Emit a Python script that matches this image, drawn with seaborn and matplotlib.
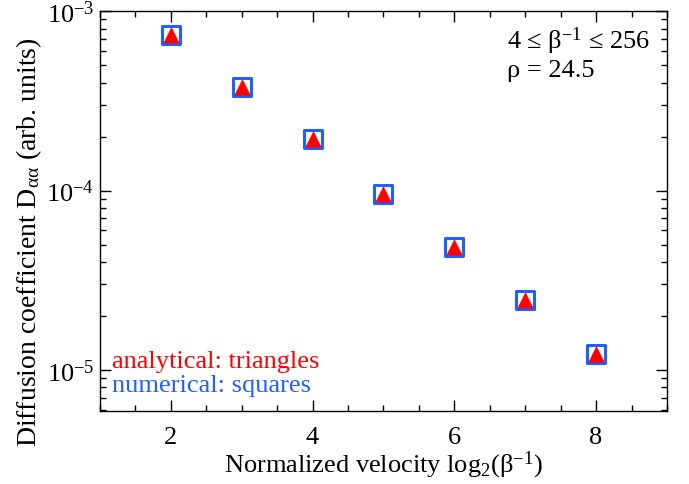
import matplotlib
matplotlib.use("Agg")
import matplotlib.pyplot as plt
import seaborn as sns
import pandas as pd
import numpy as np
from matplotlib.ticker import MultipleLocator, LogLocator, LogFormatterMathtext, NullFormatter

sns.set_style("ticks")
plt.rcParams['font.family'] = ['Liberation Serif', 'DejaVu Serif']
plt.rcParams['mathtext.fontset'] = 'custom'
plt.rcParams['mathtext.rm'] = 'Liberation Serif'
plt.rcParams['mathtext.it'] = 'Liberation Serif'
plt.rcParams['mathtext.bf'] = 'Liberation Serif:bold'
plt.rcParams['mathtext.default'] = 'regular'
plt.rcParams['text.color'] = 'black'
plt.rcParams['axes.labelcolor'] = 'black'
plt.rcParams['xtick.color'] = 'black'
plt.rcParams['ytick.color'] = 'black'

log2_beta_inv = [2, 3, 4, 5, 6, 7, 8]
numerical = [7.4e-4, 3.8e-4, 1.93e-4, 9.6e-5, 4.85e-5, 2.45e-5, 1.22e-5]
analytical = [7.4e-4, 3.8e-4, 1.93e-4, 9.6e-5, 4.85e-5, 2.45e-5, 1.22e-5]

df = pd.DataFrame({"x": log2_beta_inv, "num": numerical, "ana": analytical})

FS = 19
fig = plt.figure(figsize=(6.89, 4.85), dpi=100)
ax = fig.add_axes([0.145, 0.1505, 0.823, 0.8245])

sns.scatterplot(data=df, x="x", y="num", ax=ax, marker="s", s=170,
                facecolor="white", edgecolor="#2060ff", linewidth=2.2, zorder=3)
sns.scatterplot(data=df, x="x", y="ana", ax=ax, marker="^", s=120,
                color="red", edgecolor="red", linewidth=0.5, zorder=4)

ax.set_yscale("log")
ax.set_xlim(1, 9)
ax.set_ylim(5.9e-6, 1e-3)
ax.xaxis.set_major_locator(MultipleLocator(2))
ax.xaxis.set_minor_locator(MultipleLocator(0.5))
ax.yaxis.set_major_locator(LogLocator(base=10))
ax.yaxis.set_major_formatter(LogFormatterMathtext())
ax.yaxis.set_minor_locator(LogLocator(base=10, subs=np.arange(2, 10)))
ax.yaxis.set_minor_formatter(NullFormatter())

ax.tick_params(which="both", direction="in", top=True, right=True, labelsize=FS,
               color="black", labelcolor="black")
ax.tick_params(which="major", length=8, width=1)
ax.tick_params(which="minor", length=4, width=1)
ax.tick_params(axis="x", pad=11)
ax.tick_params(axis="y", pad=4)
for sp in ax.spines.values():
    sp.set_linewidth(1)
    sp.set_color("black")

ax.set_xlabel("Normalized velocity log$_{2}$(β$^{-1}$)", fontsize=19, labelpad=0)
ax.set_ylabel("Diffusion coefficient D$_{αα}$ (arb. units)", fontsize=20)
ax.yaxis.set_label_coords(-0.099, 0.425)

ax.text(0.718, 0.9275, "4 ≤ β$^{-1}$ ≤ 256", transform=ax.transAxes,
        ha="left", va="center", fontsize=FS)
ax.text(0.718, 0.8525, "ρ = 24.5", transform=ax.transAxes,
        ha="left", va="center", fontsize=FS)
ax.text(0.022, 0.125, "analytical: triangles", transform=ax.transAxes,
        ha="left", va="center", fontsize=FS, color="red")
ax.text(0.022, 0.065, "numerical: squares", transform=ax.transAxes,
        ha="left", va="center", fontsize=FS, color="#2060ff")

fig.savefig("out.png", dpi=100)
